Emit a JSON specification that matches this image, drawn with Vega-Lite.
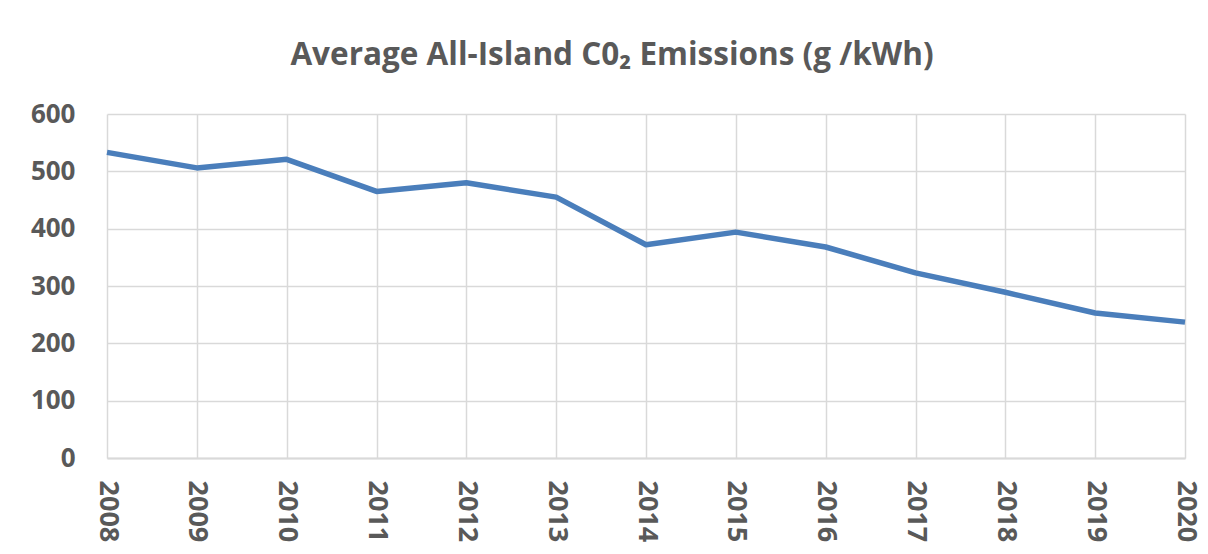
{
  "$schema": "https://vega.github.io/schema/vega-lite/v6.json",
  "autosize": "none",
  "width": 1078,
  "height": 344,
  "padding": {"left": 107, "top": 114, "right": 23, "bottom": 96},
  "background": "white",
  "title": {
    "text": "Average All-Island C0₂ Emissions (g /kWh)",
    "font": "Open Sans",
    "fontSize": 31.5,
    "fontWeight": "bold",
    "color": "#595959",
    "anchor": "middle",
    "dx": -34,
    "offset": 30
  },
  "data": {
    "values": [
      {"year": "2008", "value": 533},
      {"year": "2009", "value": 506},
      {"year": "2010", "value": 521},
      {"year": "2011", "value": 465},
      {"year": "2012", "value": 480},
      {"year": "2013", "value": 455},
      {"year": "2014", "value": 372},
      {"year": "2015", "value": 394},
      {"year": "2016", "value": 368},
      {"year": "2017", "value": 323},
      {"year": "2018", "value": 289},
      {"year": "2019", "value": 253},
      {"year": "2020", "value": 237}
    ]
  },
  "mark": {"type": "line", "color": "#4a7ebb", "strokeWidth": 5.5, "strokeJoin": "round"},
  "encoding": {
    "x": {
      "field": "year",
      "type": "ordinal",
      "scale": {"type": "point", "padding": 0},
      "axis": {
        "title": null,
        "labelAngle": 90,
        "labelAlign": "left",
        "labelBaseline": "middle",
        "labelFont": "Open Sans",
        "labelFontSize": 27,
        "labelFontWeight": "bold",
        "labelColor": "#595959",
        "labelPadding": 22,
        "ticks": false,
        "domainColor": "#d9d9d9",
        "domainWidth": 2,
        "grid": true,
        "gridColor": "#d9d9d9",
        "gridWidth": 1.5
      }
    },
    "y": {
      "field": "value",
      "type": "quantitative",
      "scale": {"domain": [0, 600], "nice": false},
      "axis": {
        "title": null,
        "values": [0, 100, 200, 300, 400, 500, 600],
        "labelFont": "Open Sans",
        "labelFontSize": 26,
        "labelFontWeight": "bold",
        "labelColor": "#595959",
        "labelPadding": 32,
        "ticks": false,
        "domain": false,
        "grid": true,
        "gridColor": "#d9d9d9",
        "gridWidth": 1.5
      }
    }
  },
  "config": {"view": {"stroke": null}}
}
